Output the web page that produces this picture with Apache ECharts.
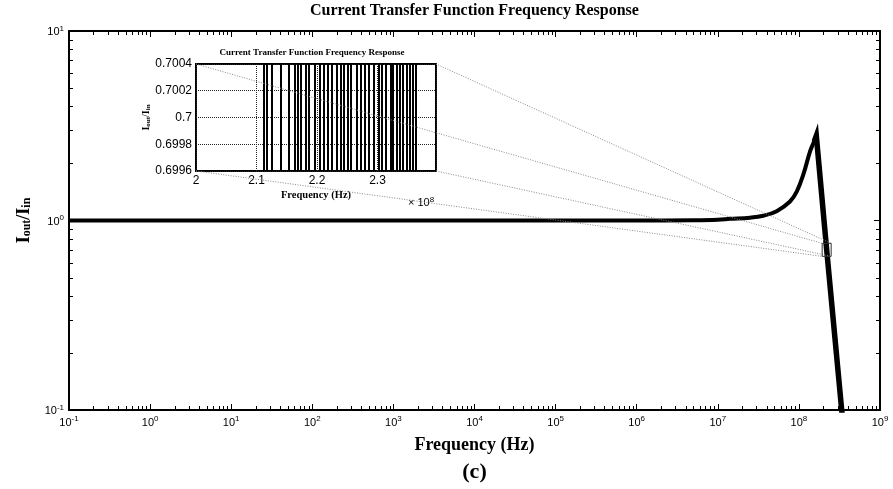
<!DOCTYPE html>
<html><head><meta charset="utf-8">
<script src="https://cdn.jsdelivr.net/npm/echarts@6/dist/echarts.min.js"></script>
<style>html,body{margin:0;padding:0;background:#fff}#c{width:893px;height:489px}</style>
</head><body><div id="c"></div>
<script>
// ---- data ----
const riseFreqHz = [0.1, 1e6, 5e6, 1e7, 1.41e7, 2.49e7, 3.64e7, 5.32e7, 7.77e7, 9.4e7, 1.13e8, 1.37e8, 1.52e8, 1.64e8];
const riseGain   = [1.0, 1.0, 1.004, 1.01, 1.02, 1.035, 1.06, 1.12, 1.26, 1.42, 1.74, 2.31, 2.58, 2.8];
const fallFreqHz = [1.55e8, 1.64e8, 2.2e8, 3.37e8, 3.6e8];
const fallGain   = [2.62, 2.8, 0.7, 0.1, 0.075];
const xTickExponents = [-1, 0, 1, 2, 3, 4, 5, 6, 7, 8, 9];
const yTickExponents = [-1, 0, 1];
const minorMantissas = [2, 3, 4, 5, 6, 7, 8, 9];
// inset: zoomed window, frequency in units of 1e8 Hz
const insetLineFreq = [2.112, 2.118, 2.126, 2.140, 2.153, 2.163, 2.168, 2.173, 2.181, 2.186, 2.197,
  2.205, 2.212, 2.219, 2.224, 2.233, 2.240, 2.244, 2.252, 2.257, 2.266, 2.273, 2.279, 2.286, 2.295,
  2.302, 2.307, 2.314, 2.322, 2.326, 2.332, 2.337, 2.342, 2.348, 2.354, 2.359, 2.363];
const insetXRange = [2, 2.3967];
const insetYRange = [0.6996, 0.7004];
const zoomCenter = [2.2e8, 0.7];

const SERIF = '"Liberation Serif","Times New Roman",serif';
const SANS = '"Liberation Sans",Arial,sans-serif';

function powLabel(v) { return '{b|10}{s|' + Math.round(Math.log10(v)) + '}'; }
const powRich = {
  b: { fontSize: 11, fontFamily: SANS, color: '#000', lineHeight: 13, verticalAlign: 'bottom' },
  s: { fontSize: 8, fontFamily: SANS, color: '#000', lineHeight: 8, verticalAlign: 'top', padding: [0, 0, 8, 0] }
};

const xMinor = [], yMinor = [];
xTickExponents.slice(0, -1).forEach(e => minorMantissas.forEach(m => xMinor.push([m * Math.pow(10, e), 1])));
yTickExponents.slice(0, -1).forEach(e => minorMantissas.forEach(m => yMinor.push([1, m * Math.pow(10, e)])));

const axisLineMain = { show: true, lineStyle: { color: '#000', width: 2 } };
const tickMain = { show: true, inside: true, length: 6, lineStyle: { color: '#000', width: 1 } };

const chart = echarts.init(document.getElementById('c'));
chart.setOption({
  animation: false,
  backgroundColor: '#fff',
  grid: [
    { left: 69, top: 31, right: 13, bottom: 79, show: false },
    { left: 196, top: 64, width: 240, height: 107, show: true, backgroundColor: '#fff', borderColor: '#000', borderWidth: 2, z: 5 }
  ],
  xAxis: [
    { type: 'log', logBase: 10, min: 0.1, max: 1e9, gridIndex: 0, position: 'bottom', interval: 1,
      axisLine: axisLineMain, axisTick: tickMain, splitLine: { show: false }, minorTick: { show: false },
      axisLabel: { formatter: powLabel, rich: powRich, margin: 5 },
      name: 'Frequency (Hz)', nameLocation: 'middle', nameGap: 20,
      nameTextStyle: { fontFamily: SERIF, fontWeight: 'bold', fontSize: 18, color: '#000' } },
    { type: 'log', logBase: 10, min: 0.1, max: 1e9, gridIndex: 0, position: 'top', interval: 1,
      axisLine: axisLineMain, axisTick: tickMain, splitLine: { show: false }, axisLabel: { show: false } },
    { type: 'value', min: insetXRange[0], max: insetXRange[1], interval: 0.1, gridIndex: 1, position: 'bottom', z: 6,
      axisLine: { show: false }, axisTick: { show: false },
      splitLine: { show: true, lineStyle: { color: '#222', type: [1, 1], width: 1 } },
      axisLabel: { color: '#000', fontFamily: SANS, fontSize: 12, margin: 4, showMaxLabel: false, formatter: v => String(+v.toFixed(1)) },
      name: 'Frequency (Hz)', nameLocation: 'middle', nameGap: 19,
      nameTextStyle: { fontFamily: SERIF, fontWeight: 'bold', fontSize: 10.5, color: '#000' } }
  ],
  yAxis: [
    { type: 'log', logBase: 10, min: 0.1, max: 10, gridIndex: 0, position: 'left', interval: 1,
      axisLine: axisLineMain, axisTick: tickMain, splitLine: { show: false },
      axisLabel: { formatter: powLabel, rich: powRich, margin: 5 },
      name: '{b|I}{s|out}{b|/I}{s|in}', nameLocation: 'middle', nameGap: 36, nameRotate: 90,
      nameTextStyle: { rich: {
        b: { fontFamily: SERIF, fontWeight: 'bold', fontSize: 18, color: '#000', lineHeight: 20, verticalAlign: 'bottom' },
        s: { fontFamily: SERIF, fontWeight: 'bold', fontSize: 12, color: '#000', lineHeight: 12, verticalAlign: 'bottom' } } } },
    { type: 'log', logBase: 10, min: 0.1, max: 10, gridIndex: 0, position: 'right', interval: 1,
      axisLine: axisLineMain, axisTick: tickMain, splitLine: { show: false }, axisLabel: { show: false } },
    { type: 'value', min: insetYRange[0], max: insetYRange[1], interval: 0.0002, gridIndex: 1, position: 'left', z: 6,
      axisLine: { show: false }, axisTick: { show: false },
      splitLine: { show: true, lineStyle: { color: '#222', type: [1, 1], width: 1 } },
      axisLabel: { color: '#000', fontFamily: SANS, fontSize: 12, margin: 4, formatter: v => String(+v.toFixed(4)) },
      name: '{b|I}{s|out}{b|/I}{s|in}', nameLocation: 'middle', nameGap: 42, nameRotate: 90,
      nameTextStyle: { rich: {
        b: { fontFamily: SERIF, fontWeight: 'bold', fontSize: 10, color: '#000', lineHeight: 11, verticalAlign: 'bottom' },
        s: { fontFamily: SERIF, fontWeight: 'bold', fontSize: 7, color: '#000', lineHeight: 7, verticalAlign: 'bottom' } } } }
  ],
  series: [
    { type: 'line', xAxisIndex: 0, yAxisIndex: 0, data: riseFreqHz.map((f, i) => [f, riseGain[i]]),
      showSymbol: false, smooth: 0.4, clip: true,
      lineStyle: { color: '#000', width: 4, join: 'round' }, z: 3 },
    { type: 'line', xAxisIndex: 0, yAxisIndex: 0, data: fallFreqHz.map((f, i) => [f, fallGain[i]]),
      showSymbol: false, clip: true,
      lineStyle: { color: '#000', width: 5.5, join: 'miter', miterLimit: 20 }, z: 3 },
    { type: 'custom', xAxisIndex: 0, yAxisIndex: 0, data: xMinor, silent: true, z: 4,
      renderItem(params, api) {
        const cs = params.coordSys; const x = Math.round(api.coord([api.value(0), 1])[0]) + 0.5;
        const yb = cs.y + cs.height, yt = cs.y;
        return { type: 'group', children: [
          { type: 'line', shape: { x1: x, y1: yb, x2: x, y2: yb - 4 }, style: { stroke: '#000', lineWidth: 1 } },
          { type: 'line', shape: { x1: x, y1: yt, x2: x, y2: yt + 4 }, style: { stroke: '#000', lineWidth: 1 } } ] };
      } },
    { type: 'custom', xAxisIndex: 0, yAxisIndex: 0, data: yMinor, silent: true, z: 4,
      renderItem(params, api) {
        const cs = params.coordSys; const y = Math.round(api.coord([1, api.value(1)])[1]) + 0.5;
        const xl = cs.x, xr = cs.x + cs.width;
        return { type: 'group', children: [
          { type: 'line', shape: { x1: xl, y1: y, x2: xl + 4, y2: y }, style: { stroke: '#000', lineWidth: 1 } },
          { type: 'line', shape: { x1: xr, y1: y, x2: xr - 4, y2: y }, style: { stroke: '#000', lineWidth: 1 } } ] };
      } },
    { type: 'custom', xAxisIndex: 2, yAxisIndex: 2, data: insetLineFreq.map(f => [f]), silent: true, z: 10,
      renderItem(params, api) {
        const p0 = api.coord([api.value(0), insetYRange[0]]);
        const p1 = api.coord([api.value(0), insetYRange[1]]);
        const x = Math.round(p0[0]);
        return { type: 'line', shape: { x1: x, y1: p0[1], x2: x, y2: p1[1] }, style: { stroke: '#000', lineWidth: 2 } };
      } }
  ]
});

// annotations derived from axis positions
const mainF = { xAxisIndex: 0, yAxisIndex: 0 };
const insF = { xAxisIndex: 2, yAxisIndex: 2 };
const c = chart.convertToPixel(mainF, zoomCenter);
const sw = 9, sh = 13;
const sq = { l: c[0] - sw / 2, r: c[0] + sw / 2, t: c[1] - sh / 2, b: c[1] + sh / 2 };
const iTL = chart.convertToPixel(insF, [insetXRange[0], insetYRange[1]]);
const iTR = chart.convertToPixel(insF, [insetXRange[1], insetYRange[1]]);
const iBL = chart.convertToPixel(insF, [insetXRange[0], insetYRange[0]]);
const iBR = chart.convertToPixel(insF, [insetXRange[1], insetYRange[0]]);
const guide = (a, b) => ({ type: 'line', z: 100, silent: true, shape: { x1: a[0], y1: a[1], x2: b[0], y2: b[1] },
  style: { stroke: '#8a8a8a', lineWidth: 1, lineDash: [1, 1.5] } });
const plotMidX = chart.convertToPixel(mainF, [Math.sqrt(0.1 * 1e9), 1])[0];
const insetMidX = (iTL[0] + iTR[0]) / 2;

chart.setOption({
  graphic: [
    { type: 'text', z: 100, x: plotMidX, y: 11, style: { text: 'Current Transfer Function Frequency Response',
      fill: '#000', font: 'bold 16px ' + SERIF, textAlign: 'center', textVerticalAlign: 'middle' } },
    { type: 'text', z: 100, x: plotMidX, y: 472, style: { text: '(c)',
      fill: '#000', font: 'bold 22px ' + SERIF, textAlign: 'center', textVerticalAlign: 'middle' } },
    { type: 'text', z: 100, x: insetMidX - 4, y: 53, style: { text: 'Current Transfer Function Frequency Response',
      fill: '#000', font: 'bold 9px ' + SERIF, textAlign: 'center', textVerticalAlign: 'middle' } },
    { type: 'text', z: 100, x: iBR[0] - 28, y: 196, style: { text: '{a|× 10}{s|8}',
      rich: { a: { fontFamily: SANS, fontSize: 11, fill: '#000', lineHeight: 12, verticalAlign: 'bottom' },
              s: { fontFamily: SANS, fontSize: 8, fill: '#000', lineHeight: 8, verticalAlign: 'top', padding: [0, 0, 6, 0] } } } },
    guide(iTL, [sq.l, sq.t]), guide(iTR, [sq.r, sq.t]), guide(iBL, [sq.l, sq.b]), guide(iBR, [sq.r, sq.b]),
    { type: 'rect', z: 100, silent: true, shape: { x: sq.l, y: sq.t, width: sw, height: sh },
      style: { fill: 'none', stroke: '#333', lineWidth: 1 } }
  ]
});
</script></body></html>
